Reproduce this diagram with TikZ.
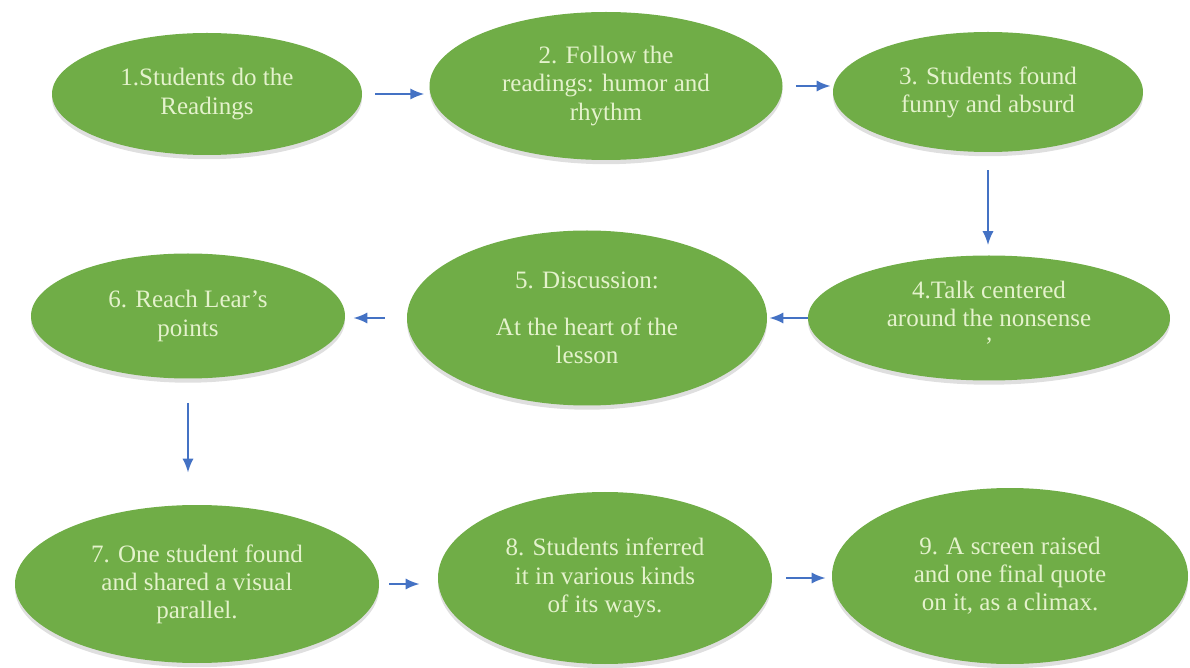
\documentclass[tikz,border=0pt]{standalone}
\usepackage{fontspec}
\setmainfont{Liberation Serif}
\newfontfamily\stagefont{Liberation Serif}
\usetikzlibrary{shapes.geometric,arrows.meta,shadows}
\definecolor{stagegreen}{RGB}{112,173,71}
\definecolor{stagetext}{RGB}{228,242,204}
\definecolor{flowblue}{RGB}{68,114,196}
\begin{document}
\begin{tikzpicture}[
	stage/.style={ellipse, fill=stagegreen, inner sep=0pt, align=center,
		text=stagetext, font=\stagefont\fontsize{17.8}{20}\selectfont,
		drop shadow={shadow xshift=0pt, shadow yshift=-3pt, opacity=0.25}},
	flow/.style={draw=flowblue, line width=1.6pt, -{Latex[length=10pt,width=8pt]}}
	]
	\useasboundingbox (0,0) rectangle (29.75,16.675);

	% Top row
	\node[stage, minimum width=7.75cm, minimum height=3.05cm] (e1) at (5.175,14.325)
		{1.Students do the\\Readings};
	\node[stage, minimum width=8.825cm, minimum height=3.7cm] (e2) at (15.15,14.525)
		{2. Follow the\\readings: humor and\\rhythm};
	\node[stage, minimum width=7.75cm, minimum height=3.0cm] (e3) at (24.7,14.375)
		{3. Students found\\funny and absurd};

	% Middle row
	\node[stage, minimum width=9.05cm, minimum height=3.125cm] (e4) at (24.725,8.725)
		{4.Talk centered\\around the nonsense\\’};
	\node[stage, minimum width=9.0cm, minimum height=4.375cm] (e5) at (14.675,8.725)
		{5. Discussion:\\[0.75em]At the heart of the\\lesson};
	\node[stage, minimum width=7.85cm, minimum height=3.125cm] (e6) at (4.7,8.775)
		{6. Reach Lear’s\\points};

	% Bottom row
	\node[stage, minimum width=9.1cm, minimum height=3.95cm] (e7) at (4.925,2.075)
		{7. One student found\\and shared a visual\\parallel.};
	\node[stage, minimum width=8.35cm, minimum height=4.3cm] (e8) at (15.125,2.225)
		{8. Students inferred\\it in various kinds\\of its ways.};
	\node[stage, minimum width=8.9cm, minimum height=4.4cm] (e9) at (25.25,2.275)
		{9. A screen raised\\and one final quote\\on it, as a climax.};

	% Arrows
	\draw[flow, shorten <=0.33cm, shorten >=0.12cm] (e1.east) -- (e1.east -| e2.west);
	\draw[flow, shorten <=0.33cm, shorten >=0.05cm] (e2.east) -- (e2.east -| e3.west);
	\draw[flow, shorten <=0.45cm, shorten >=0.25cm] (e3.south) -- (e3.south |- e4.north);
	\draw[flow, shorten >=0.05cm] (e4.west) -- (e4.west -| e5.east);
	\draw[flow, shorten <=0.55cm, shorten >=0.2cm] (e5.west) -- (e5.west -| e6.east);
	\draw[flow, shorten <=0.6cm, shorten >=0.8cm] (e6.south) -- (e6.south |- e7.north);
	\draw[flow, shorten <=0.25cm, shorten >=0.45cm] (e7.east) -- (e7.east -| e8.west);
	\draw[flow, shorten <=0.35cm, shorten >=0.15cm] (e8.east) -- (e8.east -| e9.west);
\end{tikzpicture}
\end{document}
